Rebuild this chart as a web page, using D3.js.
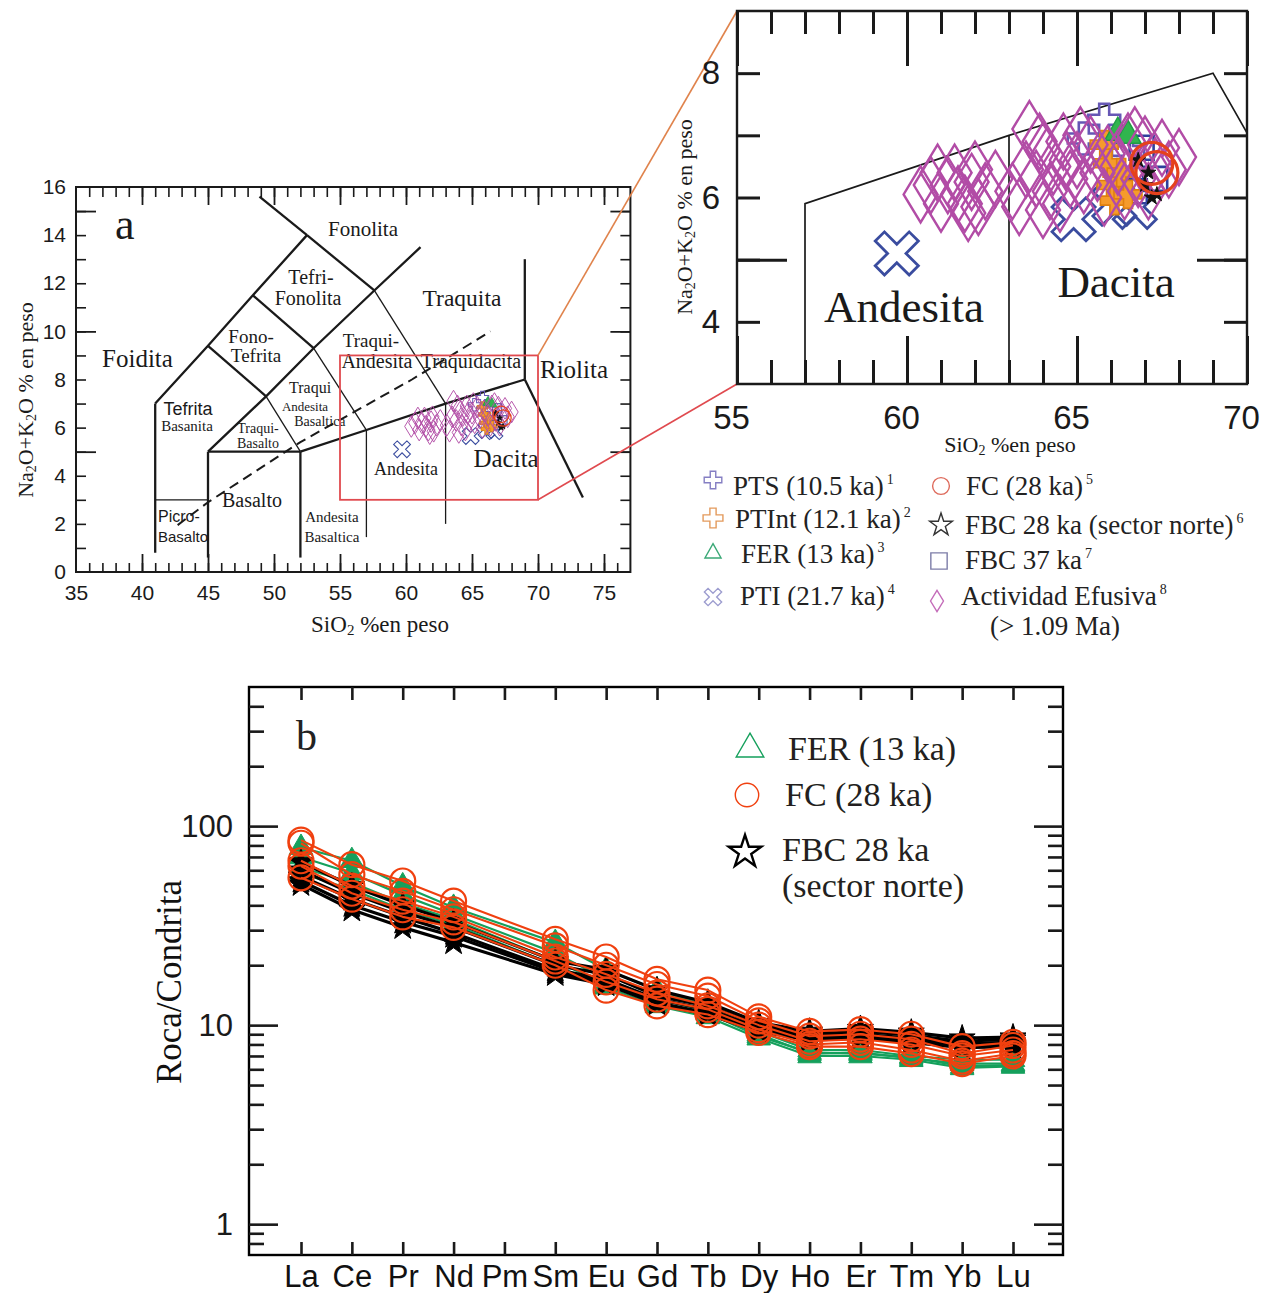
<!DOCTYPE html>
<html>
<head>
<meta charset="utf-8">
<script src="https://cdn.jsdelivr.net/npm/d3@7"></script>
<style>
  html, body { margin: 0; padding: 0; background: #fff; }
  svg { display: block; }
</style>
</head>
<body>
<svg id="fig" width="1274" height="1293"></svg>
<script>
const SERIF = '"Liberation Serif","Times New Roman",serif';
const SANS = '"Liberation Sans",Arial,sans-serif';

// ---------- TAS samples: [SiO2 wt%, Na2O+K2O wt%] ----------
const efusiva = [
  [60.4,6.05],[60.7,6.2],[60.9,6.4],[61.0,5.9],[61.2,6.2],[61.4,6.4],[61.5,6.05],
  [61.7,5.9],[61.9,6.25],[62.0,6.45],[62.1,5.85],[62.3,6.1],[62.6,6.3],[61.8,5.75],
  [63.1,6.1],[63.3,5.85],[63.5,6.45],[63.6,7.1],[63.8,6.3],[63.9,6.9],[64.0,5.8],
  [64.0,6.75],[64.2,6.1],[64.3,6.5],[64.5,5.9],[64.6,6.9],[64.7,6.6],[64.8,6.3],
  [65.0,6.6],[65.1,7.0],[65.2,6.2],[65.4,6.85],[65.6,6.4],[65.8,6.0],[65.9,6.7],
  [66.2,6.5],[66.4,6.1],[66.5,6.9],[66.7,7.0],[66.8,6.3],[67.0,6.85],[67.1,6.1],
  [67.3,6.5],[67.5,6.8],[67.7,6.45],[68.0,6.65]
];
const pti   = [[59.7,5.1],[64.9,5.65],[66.1,5.9],[66.7,5.85]];
const pts   = [[65.8,7.25],[65.2,6.95],[66.5,6.75]];
const ptint = [[65.8,6.85],[65.9,6.55],[66.0,6.2],[66.1,5.95],[66.3,6.4],[66.5,6.05]];
const fer   = [[66.2,7.05],[66.5,7.0]];
const fc    = [[67.2,6.55],[67.35,6.4]];
const fbc28 = [[66.8,6.6],[67.0,6.2],[67.1,6.4],[67.2,6.0],[67.35,6.05]];
const fbc37 = [[66.7,6.1],[66.9,6.8],[67.3,6.3]];

// ---------- TAS field boundaries (Le Bas et al.) ----------
const tasLines = [
  [[41,0.8],[41,7]],
  [[41,7],[45,9.4],[48.4,11.5],[52.5,14]],
  [[52.5,14],[48.9,15.6]],
  [[52.5,14],[57.6,11.7]],
  [[45,9.4],[49.4,7.3]],
  [[48.4,11.5],[53,9.3]],
  [[45,5],[49.4,7.3],[53,9.3],[57.6,11.7],[61.1,13.5]],
  [[52,5],[57,5.9],[63,7],[69,8]],
  [[69,8],[69,13]],
  [[69,8],[73.4,3.1]],
  [[45,5],[52,5]],
  [[45,0.6],[45,5]],
  [[52,0.6],[52,5]]
];
const tasThin = [
  [[57.6,11.7],[63,7]],
  [[53,9.3],[57,5.9]],
  [[49.4,7.3],[52,5]],
  [[41,3],[45,3]],
  [[57,1.45],[57,5.9]],
  [[63,2.0],[63,7]]
];
const alkalineDivide = [[42.7,1.95],[45,2.9],[52,5.4],[60.45,8.0],[66.4,10.0]];
const insetLines = [
  [[57,3],[57,5.9],[63,7],[69,8],[70,7.04]],
  [[63,3],[63,7]]
];
const zoomBox = [[55,3],[70,9]];

// field names: [text, SiO2, Na2O+K2O (baseline), font size, family]
const tasLabels = [
  ["Fonolita",56.74,13.97,21,"s"],
  ["Tefri-",52.8,11.97,20,"s"],["Fonolita",52.58,11.1,20,"s"],
  ["Traquita",64.24,11.06,23.5,"s"],
  ["Fono-",48.26,9.5,19,"s"],["Tefrita",48.64,8.73,19,"s"],
  ["Foidita",39.66,8.52,25,"s"],
  ["Traqui-",57.35,9.35,19,"s"],["Andesita",57.8,8.48,20,"s"],
  ["Traquidacita",64.92,8.48,20,"s"],
  ["Riolita",72.73,8.06,25,"s"],
  ["Traqui",52.73,7.42,16,"s"],["Andesita",52.35,6.7,13,"s"],["Basaltica",53.48,6.05,14,"s"],
  ["Tefrita",43.48,6.53,18,"a"],["Basanita",43.41,5.86,15,"s"],
  ["Traqui-",48.79,5.78,14,"s"],["Basalto",48.79,5.15,14,"s"],
  ["Basalto",48.33,2.7,20,"s"],
  ["Picro-",42.8,2.08,16,"a"],["Basalto",43.11,1.25,15,"a"],
  ["Andesita",54.39,2.08,15,"s"],["Basaltica",54.39,1.25,15,"s"],
  ["Andesita",60.0,4.03,18,"s"],
  ["Dacita",67.58,4.36,25,"s"]
];
const insetLabels = [["Andesita",59.91,4.0,45],["Dacita",66.15,4.4,45]];

// ---------- REE, chondrite normalised ----------
const ree = ["La","Ce","Pr","Nd","Pm","Sm","Eu","Gd","Tb","Dy","Ho","Er","Tm","Yb","Lu"];
const reeFER = [
  [78,67,50,39,null,26,19,15,12.5,9.3,7.5,7.5,7.0,6.7,6.7],
  [70,58,45,36,null,23,17,13.5,11.8,9.0,7.2,7.3,6.8,6.4,6.4],
  [62,52,41,34,null,21,16,13,11.5,8.8,7.3,7.2,6.9,6.2,6.3],
  [58,48,38,32,null,20,15.5,12.5,11,8.6,7.0,7.0,6.7,6.1,6.2]
];
const reeFBC = [
  [66,50,40,33,null,21,19,15,13,10.3,9.3,9.6,9.2,8.6,8.7],
  [60,46,37,31,null,20,18,14,12.5,10,9.0,9.3,8.9,8.3,8.5],
  [56,43,35,29,null,19,17,13.5,12,9.7,8.8,9.0,8.6,8.1,8.2],
  [53,40,33,28,null,18.5,16.5,13,11.5,9.5,8.6,8.8,8.4,7.9,8.0],
  [51,38,31,26,null,18,16,12.8,11.3,9.3,8.4,8.6,8.2,7.7,7.8]
];
const reeFC = [
  [85,64,53,42,null,27,22,17,15,11,9.3,9.5,9.0,7.8,8.2],
  [82,57,47,38,null,25,20,16,14,10.5,8.8,9.0,8.5,7.2,7.9],
  [67,50,42,35,null,22,18,14.5,12.5,10,8.3,8.5,8.0,7.0,7.5],
  [63,46,38,33,null,21,16.5,13.5,12,9.5,8.0,8.2,7.5,6.6,7.2],
  [55,43,35,31,null,20,15,12.5,11.3,9.2,7.8,7.8,7.2,6.4,7.0]
];

const svg = d3.select("#fig");

// ---------- marker shapes (unit scale = enlarged panel) ----------
function crossPts(half, arm) {
  const a = arm / 2, s = half;
  return [[-a,-s],[a,-s],[a,-a],[s,-a],[s,a],[a,a],[a,s],[-a,s],[-a,a],[-s,a],[-s,-a],[-a,-a]];
}
function polyPath(pts) { return "M" + pts.map(p => p[0].toFixed(2) + "," + p[1].toFixed(2)).join("L") + "Z"; }
function rot45(pts) { const c = Math.SQRT1_2; return pts.map(([x, y]) => [c * (x - y), c * (x + y)]); }
const shapes = {
  diamond: k => polyPath([[0,-28*k],[17*k,0],[0,28*k],[-17*k,0]]),
  xcross: k => polyPath(rot45(crossPts(24*k, 13*k))),
  plus: k => polyPath(crossPts(16*k, 10*k)),
  plusSmall: k => polyPath(crossPts(14*k, 9*k)),
  triangle: k => polyPath([[0,-15*k],[13*k,8*k],[-13*k,8*k]]),
  square: k => polyPath([[-12*k,-12*k],[12*k,-12*k],[12*k,12*k],[-12*k,12*k]]),
  circle: k => { const p = d3.path(); p.arc(0, 0, 21*k, 0, 2*Math.PI); return p.toString(); },
  star: k => d3.symbol(d3.symbolStar, 70 * k * k)()
};

const tasSets = [
  {data: fbc37, shape: "square", stroke: "#2f3f9c", fill: "none", w: 2.6},
  {data: pti, shape: "xcross", stroke: "#3a4c9f", fill: "none", w: 2.8},
  {data: pts, shape: "plus", stroke: "#6657b5", fill: "none", w: 2.6},
  {data: ptint, shape: "plusSmall", stroke: "#e0800f", fill: "#f59b2c", w: 1.6},
  {data: fer, shape: "triangle", stroke: "#1f9c45", fill: "#30b54e", w: 1.5},
  {data: efusiva, shape: "diamond", stroke: "#b24ca6", fill: "none", w: 2.4},
  {data: fbc28, shape: "star", stroke: "#111", fill: "#111", w: 0.5},
  {data: fc, shape: "circle", stroke: "#e5411d", fill: "none", w: 3.2}
];

function drawSamples(g, x, y, k, minW) {
  tasSets.forEach(set => {
    g.append("g").selectAll("path").data(set.data).join("path")
      .attr("d", shapes[set.shape](k))
      .attr("transform", d => `translate(${x(d[0])},${y(d[1])})`)
      .attr("fill", set.fill)
      .attr("stroke", set.stroke)
      .attr("stroke-width", Math.max(set.w * k, minW))
      .attr("stroke-linejoin", "miter");
  });
}

// inward tick marks drawn with d3 axes
function tickMarks(g, axisFn, scale, values, len, transform, width) {
  const gg = g.append("g").attr("transform", transform)
    .call(axisFn(scale).tickValues(values).tickSize(-len).tickFormat(""));
  gg.select(".domain").remove();
  gg.selectAll("line").attr("stroke", "#1a1a1a").attr("stroke-width", width);
  return gg;
}
function tickLabels(g, axisFn, scale, values, pad, transform, size, fmt) {
  const gg = g.append("g").attr("transform", transform)
    .call(axisFn(scale).tickValues(values).tickSize(0).tickPadding(pad).tickFormat(fmt || d3.format("d")));
  gg.select(".domain").remove();
  gg.attr("font-family", SANS).attr("font-size", size);
  gg.selectAll("text").attr("fill", "#1a1a1a");
  return gg;
}
function subText(sel, parts, subSize) {
  parts.forEach(p => {
    if (p.sub) sel.append("tspan").attr("font-size", subSize).attr("baseline-shift", "-18%").text(p.t);
    else sel.append("tspan").text(p.t);
  });
}
const naLabel = [{t:"Na"},{t:"2",sub:1},{t:"O+K"},{t:"2",sub:1},{t:"O  % en peso"}];
const siLabel = [{t:"SiO"},{t:"2",sub:1},{t:"  %en peso"}];

// =================== Panel a: TAS ===================
const xA = d3.scaleLinear().domain([35, 77]).range([76, 630.4]);
const yA = d3.scaleLinear().domain([0, 16]).range([572, 187]);
const gA = svg.append("g");

const line = (x, y) => d3.line().x(d => x(d[0])).y(d => y(d[1]));
const lA = line(xA, yA);

gA.append("g").selectAll("path").data(tasLines).join("path")
  .attr("d", lA).attr("fill", "none").attr("stroke", "#1a1a1a").attr("stroke-width", 2.3);
gA.append("g").selectAll("path").data(tasThin).join("path")
  .attr("d", lA).attr("fill", "none").attr("stroke", "#1a1a1a").attr("stroke-width", 1.3);
gA.append("path").attr("d", lA(alkalineDivide)).attr("fill", "none")
  .attr("stroke", "#1a1a1a").attr("stroke-width", 2).attr("stroke-dasharray", "10,6");

gA.append("g").selectAll("text").data(tasLabels).join("text")
  .attr("x", d => xA(d[1])).attr("y", d => yA(d[2]))
  .attr("text-anchor", "middle")
  .attr("font-family", d => d[4] === "a" ? SANS : SERIF)
  .attr("font-size", d => d[3]).attr("fill", "#1a1a1a")
  .text(d => d[0]);

// samples (reduced marker size)
const kA = (xA(1) - xA(0)) / 34;
drawSamples(gA.append("g"), xA, yA, kA, 0.9);

// zoom rectangle
gA.append("rect")
  .attr("x", xA(zoomBox[0][0])).attr("y", yA(zoomBox[1][1]))
  .attr("width", xA(zoomBox[1][0]) - xA(zoomBox[0][0]))
  .attr("height", yA(zoomBox[0][1]) - yA(zoomBox[1][1]))
  .attr("fill", "none").attr("stroke", "#e04a4f").attr("stroke-width", 1.8);

// frame + ticks
gA.append("rect").attr("x", xA(35)).attr("y", yA(16))
  .attr("width", xA(77) - xA(35)).attr("height", yA(0) - yA(16))
  .attr("fill", "none").attr("stroke", "#1a1a1a").attr("stroke-width", 2);
const xiA = d3.range(36, 77), x5A = d3.range(40, 77, 5);
const yiA = d3.range(1, 16), y5A = [5, 10, 15];
tickMarks(gA, d3.axisBottom, xA, xiA, 9, `translate(0,${yA(0)})`, 1.6);
tickMarks(gA, d3.axisBottom, xA, x5A, 18, `translate(0,${yA(0)})`, 1.8);
tickMarks(gA, d3.axisTop, xA, xiA, 10, `translate(0,${yA(16)})`, 1.6);
tickMarks(gA, d3.axisTop, xA, x5A, 18, `translate(0,${yA(16)})`, 1.8);
tickMarks(gA, d3.axisLeft, yA, yiA, 10, `translate(${xA(35)},0)`, 1.6);
tickMarks(gA, d3.axisLeft, yA, y5A, 20, `translate(${xA(35)},0)`, 1.8);
tickMarks(gA, d3.axisRight, yA, yiA, 10, `translate(${xA(77)},0)`, 1.6);
tickMarks(gA, d3.axisRight, yA, y5A, 20, `translate(${xA(77)},0)`, 1.8);
tickLabels(gA, d3.axisBottom, xA, d3.range(35, 76, 5), 13, `translate(0,${yA(0)})`, 21);
tickLabels(gA, d3.axisLeft, yA, d3.range(0, 17, 2), 10, `translate(${xA(35)},0)`, 21);

gA.append("text").attr("x", 115).attr("y", 239)
  .attr("font-family", SERIF).attr("font-size", 44).attr("fill", "#1a1a1a").text("a");
subText(gA.append("text").attr("x", 380).attr("y", 632).attr("text-anchor", "middle")
  .attr("font-family", SERIF).attr("font-size", 23).attr("fill", "#1a1a1a"), siLabel, 15);
subText(gA.append("text").attr("transform", "translate(33,400) rotate(-90)").attr("text-anchor", "middle")
  .attr("font-family", SERIF).attr("font-size", 22).attr("fill", "#1a1a1a"), naLabel, 14);

// =================== Enlarged view ===================
const xI = d3.scaleLinear().domain([55, 70]).range([737, 1247]);
const yI = d3.scaleLinear().domain([3, 9]).range([384, 11]);
const gI = svg.append("g");

// connector lines from the zoom rectangle
gI.append("line").attr("x1", xA(70)).attr("y1", yA(9)).attr("x2", xI(55)).attr("y2", yI(9))
  .attr("stroke", "#e0834c").attr("stroke-width", 1.6);
gI.append("line").attr("x1", xA(70)).attr("y1", yA(3)).attr("x2", xI(55)).attr("y2", yI(3))
  .attr("stroke", "#e04a4f").attr("stroke-width", 1.6);

svg.append("defs").append("clipPath").attr("id", "clipI").append("rect")
  .attr("x", xI(55)).attr("y", yI(9)).attr("width", xI(70) - xI(55)).attr("height", yI(3) - yI(9));

const lI = line(xI, yI);
gI.append("g").selectAll("path").data(insetLines).join("path")
  .attr("d", lI).attr("fill", "none").attr("stroke", "#1a1a1a").attr("stroke-width", 1.7);

gI.append("g").selectAll("text").data(insetLabels).join("text")
  .attr("x", d => xI(d[1])).attr("y", d => yI(d[2]))
  .attr("text-anchor", "middle").attr("font-family", SERIF)
  .attr("font-size", d => d[3]).attr("fill", "#1a1a1a").text(d => d[0]);

drawSamples(gI.append("g").attr("clip-path", "url(#clipI)"), xI, yI, 1, 1);

// frame + ticks
gI.append("path")
  .attr("d", `M${xI(55)},${yI(9)}H${xI(70)}V${yI(3)}H${xI(55)}Z`)
  .attr("fill", "none").attr("stroke", "#1a1a1a").attr("stroke-width", 2.4);
const xiI = d3.range(56, 70), x5I = [55, 60, 65, 70];
const yiI = d3.range(4, 9), y5I = [5];
tickMarks(gI, d3.axisBottom, xI, xiI, 24, `translate(0,${yI(3)})`, 3);
tickMarks(gI, d3.axisBottom, xI, x5I, 48, `translate(0,${yI(3)})`, 3);
tickMarks(gI, d3.axisTop, xI, xiI, 23, `translate(0,${yI(9)})`, 3);
tickMarks(gI, d3.axisTop, xI, x5I, 55, `translate(0,${yI(9)})`, 3);
tickMarks(gI, d3.axisLeft, yI, yiI, 23, `translate(${xI(55)},0)`, 3);
tickMarks(gI, d3.axisLeft, yI, y5I, 50, `translate(${xI(55)},0)`, 3);
tickMarks(gI, d3.axisRight, yI, yiI, 23, `translate(${xI(70)},0)`, 3);
tickMarks(gI, d3.axisRight, yI, y5I, 50, `translate(${xI(70)},0)`, 3);
tickLabels(gI, d3.axisBottom, xI, x5I, 22, `translate(-6,${yI(3)})`, 33);
tickLabels(gI, d3.axisLeft, yI, [4, 6, 8], 17, `translate(${xI(55)},0)`, 33);

subText(gI.append("text").attr("x", 1010).attr("y", 452).attr("text-anchor", "middle")
  .attr("font-family", SERIF).attr("font-size", 22).attr("fill", "#1a1a1a"), siLabel, 14);
subText(gI.append("text").attr("transform", "translate(692,217) rotate(-90)").attr("text-anchor", "middle")
  .attr("font-family", SERIF).attr("font-size", 22).attr("fill", "#1a1a1a"), naLabel, 14);

// ---- legend of the TAS groups ----
const legTAS = [
  {shape: "plus", k: 0.55, stroke: "#857fc3", fill: "none", x: 713, y: 480, text: "PTS (10.5 ka)", sup: "1", tx: 733, ty: 495},
  {shape: "plus", k: 0.62, stroke: "#e39a5c", fill: "none", x: 713, y: 518, text: "PTInt (12.1 ka)", sup: "2", tx: 735, ty: 528},
  {shape: "triangle", k: 0.62, stroke: "#3aa876", fill: "none", x: 713, y: 553, text: "FER (13 ka)", sup: "3", tx: 741, ty: 563},
  {shape: "xcross", k: 0.4, stroke: "#9c9ccf", fill: "none", x: 713, y: 597, text: "PTI (21.7 ka)", sup: "4", tx: 740, ty: 605},
  {shape: "circle", k: 0.4, stroke: "#de6b5c", fill: "none", x: 941, y: 486, text: "FC (28 ka)", sup: "5", tx: 966, ty: 495},
  {shape: "starHollow", k: 1, stroke: "#333", fill: "none", x: 941, y: 525, text: "FBC 28 ka (sector norte)", sup: "6", tx: 965, ty: 534},
  {shape: "square", k: 0.68, stroke: "#7d7da8", fill: "none", x: 939, y: 561, text: "FBC 37 ka", sup: "7", tx: 965, ty: 569},
  {shape: "diamond", k: 0.38, stroke: "#c46cb9", fill: "none", x: 937, y: 601, text: "Actividad Efusiva", sup: "8", tx: 961, ty: 605}
];
const gL = svg.append("g");
legTAS.forEach(d => {
  const dPath = d.shape === "starHollow" ? d3.symbol(d3.symbolStar, 160)() : shapes[d.shape](d.k);
  gL.append("path").attr("d", dPath).attr("transform", `translate(${d.x},${d.y})`)
    .attr("fill", d.fill).attr("stroke", d.stroke).attr("stroke-width", 1.4);
  const t = gL.append("text").attr("x", d.tx).attr("y", d.ty)
    .attr("font-family", SERIF).attr("font-size", 27).attr("fill", "#222");
  t.append("tspan").text(d.text);
  t.append("tspan").attr("font-size", 14).attr("dy", -11).attr("dx", 3).text(d.sup);
});
gL.append("text").attr("x", 990).attr("y", 635).attr("font-family", SERIF)
  .attr("font-size", 27).attr("fill", "#222").text("(> 1.09 Ma)");

// =================== Panel b: REE ===================
const xB = d3.scalePoint().domain(ree).range([301, 1013]);
const yB = d3.scaleLog().domain([0.7, 500]).range([1255, 687]);
const gB = svg.append("g");
const frameB = {x0: 249, x1: 1063};

const reeLine = d3.line().x(d => xB(d.el)).y(d => yB(d.v));
const toPts = row => row.map((v, i) => ({el: ree[i], v})).filter(d => d.v != null);

const reeGroups = [
  {rows: reeFER, color: "#15a05c", width: 2.2, marker: d3.symbol(d3.symbolTriangle, 240)(), fill: "#15a05c"},
  {rows: reeFBC, color: "#000", width: 3.2, marker: d3.symbol(d3.symbolStar, 210)(), fill: "#000"},
  {rows: reeFC, color: "#f0400f", width: 2.1, marker: null, fill: "none"}
];
reeGroups.forEach(grp => {
  const gg = gB.append("g");
  grp.rows.forEach(row => {
    const p = toPts(row);
    gg.append("path").attr("d", reeLine(p)).attr("fill", "none")
      .attr("stroke", grp.color).attr("stroke-width", grp.width).attr("stroke-linejoin", "round");
  });
  grp.rows.forEach(row => {
    const p = toPts(row);
    if (grp.marker) {
      gg.append("g").selectAll("path").data(p).join("path")
        .attr("d", grp.marker).attr("transform", d => `translate(${xB(d.el)},${yB(d.v)})`)
        .attr("fill", grp.fill).attr("stroke", grp.color).attr("stroke-width", 1);
    } else {
      gg.append("g").selectAll("circle").data(p).join("circle")
        .attr("cx", d => xB(d.el)).attr("cy", d => yB(d.v)).attr("r", 12.5)
        .attr("fill", "none").attr("stroke", grp.color).attr("stroke-width", 2.2);
    }
  });
});

// frame and axes
gB.append("rect").attr("x", frameB.x0).attr("y", yB(500))
  .attr("width", frameB.x1 - frameB.x0).attr("height", yB(0.7) - yB(500))
  .attr("fill", "none").attr("stroke", "#000").attr("stroke-width", 2.4);
const majorB = [1, 10, 100];
const minorB = [0.8, 0.9, 2,3,4,5,6,7,8,9, 20,30,40,50,60,70,80,90, 200,300,400];
tickMarks(gB, d3.axisLeft, yB, minorB, 15, `translate(${frameB.x0},0)`, 2.6);
tickMarks(gB, d3.axisLeft, yB, majorB, 29, `translate(${frameB.x0},0)`, 2.6);
tickMarks(gB, d3.axisRight, yB, minorB, 15, `translate(${frameB.x1},0)`, 2.6);
tickMarks(gB, d3.axisRight, yB, majorB, 29, `translate(${frameB.x1},0)`, 2.6);
tickMarks(gB, d3.axisBottom, xB, ree, 13, `translate(0,${yB(0.7)})`, 2.6);
tickMarks(gB, d3.axisTop, xB, ree, 13, `translate(0,${yB(500)})`, 2.6);
tickLabels(gB, d3.axisLeft, yB, majorB, 16, `translate(${frameB.x0},0)`, 31);
const xlab = gB.append("g").attr("transform", `translate(0,${yB(0.7)})`)
  .call(d3.axisBottom(xB).tickSize(0).tickPadding(10));
xlab.select(".domain").remove();
xlab.attr("font-family", SANS).attr("font-size", 31);
xlab.selectAll("text").attr("fill", "#111");

gB.append("text").attr("transform", "translate(181,982) rotate(-90)").attr("text-anchor", "middle")
  .attr("font-family", SERIF).attr("font-size", 35).attr("fill", "#111").text("Roca/Condrita");
gB.append("text").attr("x", 296).attr("y", 750).attr("font-family", SERIF)
  .attr("font-size", 42).attr("fill", "#222").text("b");

// legend
const gLB = gB.append("g");
gLB.append("path").attr("d", d3.symbol(d3.symbolTriangle, 330)()).attr("transform", "translate(750,749)")
  .attr("fill", "none").attr("stroke", "#15a05c").attr("stroke-width", 1.4);
gLB.append("circle").attr("cx", 747).attr("cy", 795).attr("r", 11.7)
  .attr("fill", "none").attr("stroke", "#f0400f").attr("stroke-width", 1.4);
gLB.append("path").attr("d", d3.symbol(d3.symbolStar, 330)()).attr("transform", "translate(745,852)")
  .attr("fill", "none").attr("stroke", "#000").attr("stroke-width", 2.4);
[["FER (13 ka)", 788, 760], ["FC (28 ka)", 785, 806], ["FBC 28 ka", 782, 861], ["(sector norte)", 782, 897]]
  .forEach(([t, x, y]) => gLB.append("text").attr("x", x).attr("y", y)
    .attr("font-family", SERIF).attr("font-size", 34).attr("fill", "#231f20").text(t));
</script>
</body>
</html>
